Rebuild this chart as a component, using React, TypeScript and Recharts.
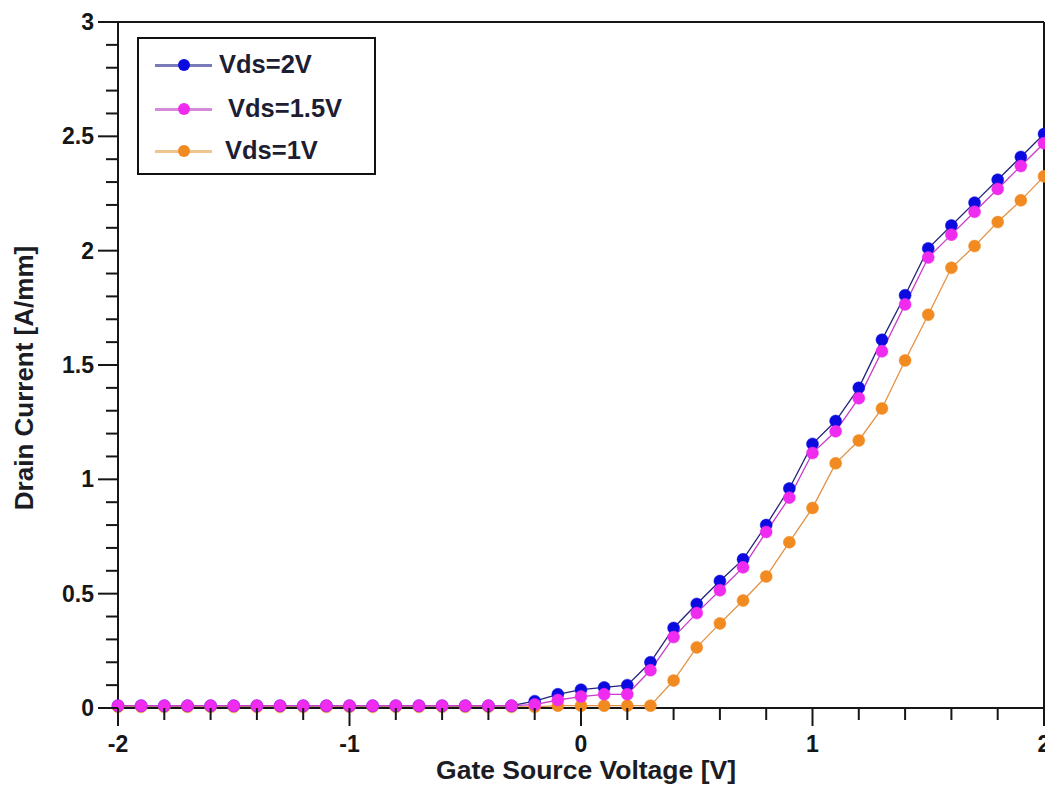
import { LineChart, Line, XAxis, YAxis, ReferenceLine } from 'recharts';

// gate source voltage [V]
const vgs = [
  -2, -1.9, -1.8, -1.7, -1.6, -1.5, -1.4, -1.3, -1.2, -1.1,
  -1, -0.9, -0.8, -0.7, -0.6, -0.5, -0.4, -0.3, -0.2, -0.1,
  0, 0.1, 0.2, 0.3, 0.4, 0.5, 0.6, 0.7, 0.8, 0.9,
  1, 1.1, 1.2, 1.3, 1.4, 1.5, 1.6, 1.7, 1.8, 1.9, 2,
];

// drain current [A/mm]
const vds2 = [
  0.01, 0.01, 0.01, 0.01, 0.01, 0.01, 0.01, 0.01, 0.01, 0.01,
  0.01, 0.01, 0.01, 0.01, 0.01, 0.01, 0.01, 0.01, 0.03, 0.06,
  0.08, 0.09, 0.1, 0.2, 0.35, 0.455, 0.555, 0.65, 0.8, 0.96,
  1.155, 1.255, 1.4, 1.61, 1.805, 2.01, 2.11, 2.21, 2.31, 2.41, 2.51,
];
const vds15 = [
  0.01, 0.01, 0.01, 0.01, 0.01, 0.01, 0.01, 0.01, 0.01, 0.01,
  0.01, 0.01, 0.01, 0.01, 0.01, 0.01, 0.01, 0.01, 0.015, 0.035,
  0.05, 0.06, 0.06, 0.165, 0.31, 0.415, 0.515, 0.615, 0.77, 0.92,
  1.115, 1.21, 1.355, 1.56, 1.765, 1.97, 2.07, 2.17, 2.27, 2.37, 2.47,
];
const vds1 = [
  0.005, 0.005, 0.005, 0.005, 0.005, 0.005, 0.005, 0.005, 0.005, 0.005,
  0.005, 0.005, 0.005, 0.005, 0.005, 0.005, 0.005, 0.005, 0.005, 0.01,
  0.01, 0.01, 0.01, 0.01, 0.12, 0.265, 0.37, 0.47, 0.575, 0.725,
  0.875, 1.07, 1.17, 1.31, 1.52, 1.72, 1.925, 2.02, 2.125, 2.22, 2.325,
];

const xTicks = [-2, -1.8, -1.6, -1.4, -1.2, -1, -0.8, -0.6, -0.4, -0.2, 0, 0.2, 0.4, 0.6, 0.8, 1, 1.2, 1.4, 1.6, 1.8, 2];
const xMajor = [-2, -1, 0, 1, 2];
const yTicks = [
  0, 0.1, 0.2, 0.3, 0.4, 0.5, 0.6, 0.7, 0.8, 0.9, 1, 1.1, 1.2, 1.3, 1.4, 1.5,
  1.6, 1.7, 1.8, 1.9, 2, 2.1, 2.2, 2.3, 2.4, 2.5, 2.6, 2.7, 2.8, 2.9, 3,
];
const yMajor = [0, 0.5, 1, 1.5, 2, 2.5, 3];

const series = [
  { key: 'vds1', name: 'Vds=1V', dot: '#f28a22', line: '#e39244', legendLine: '#efc58f', values: vds1 },
  { key: 'vds2', name: 'Vds=2V', dot: '#0b0be0', line: '#23237a', legendLine: '#7a7ab8', values: vds2 },
  { key: 'vds15', name: 'Vds=1.5V', dot: '#ee2bee', line: '#c83cc8', legendLine: '#d78ad7', values: vds15 },
];
const legendOrder = ['vds2', 'vds15', 'vds1'];

const data = vgs.map((v, i) => ({ v, vds2: vds2[i], vds15: vds15[i], vds1: vds1[i] }));

const FONT = '"Liberation Sans", Arial, sans-serif';
const INK = '#161616';

const isMajor = (list: number[], v: number) => list.some(m => Math.abs(m - v) < 1e-6);

function XTick({ x, y, payload }: any) {
  const major = isMajor(xMajor, payload.value);
  return (
    <g>
      <line x1={x} x2={x} y1={y} y2={y + (major ? 18 : 12)} stroke={INK} strokeWidth={2} />
      {major && (
        <text x={x} y={y + 44} textAnchor="middle" fontSize={23} fontWeight="bold" fontFamily={FONT} fill={INK}>
          {payload.value}
        </text>
      )}
    </g>
  );
}

function YTick({ x, y, payload }: any) {
  const major = isMajor(yMajor, payload.value);
  return (
    <g>
      <line x1={x} x2={x - (major ? 20 : 12)} y1={y} y2={y} stroke={INK} strokeWidth={2} />
      {major && (
        <text x={x - 24} y={y + 8} textAnchor="end" fontSize={23} fontWeight="bold" fontFamily={FONT} fill={INK}>
          {payload.value}
        </text>
      )}
    </g>
  );
}

export default function App() {
  return (
    <div style={{ position: 'absolute', left: 0, top: 0, width: 1045, height: 786, background: '#fff', fontFamily: FONT }}>
      <LineChart width={1045} height={786} data={data} margin={{ top: 22, right: 1, bottom: 0, left: 0 }}>
        <XAxis
          dataKey="v" type="number" domain={[-2, 2]} ticks={xTicks} interval={0}
          height={78} tickSize={0} tickMargin={0} tickLine={false} tick={<XTick />}
          axisLine={{ stroke: INK, strokeWidth: 2 }}
        />
        <YAxis
          type="number" domain={[0, 3]} ticks={yTicks} interval={0}
          width={118} tickSize={0} tickMargin={0} tickLine={false} tick={<YTick />}
          axisLine={{ stroke: INK, strokeWidth: 2 }}
        />
        <ReferenceLine y={3} stroke={INK} strokeWidth={2} />
        <ReferenceLine x={2} stroke={INK} strokeWidth={2} />
        {series.map(s => (
          <Line
            key={s.key} dataKey={s.key} name={s.name} type="linear"
            stroke={s.line} strokeWidth={1.3}
            dot={{ r: 6, fill: s.dot, stroke: s.dot, strokeWidth: 0.5 }}
            activeDot={false} isAnimationActive={false}
          />
        ))}
      </LineChart>

      {/* axis titles */}
      <div style={{ position: 'absolute', left: 586, top: 755, transform: 'translateX(-50%)', whiteSpace: 'nowrap', fontSize: 26.5, fontWeight: 'bold', color: '#1c1c24', lineHeight: '30px' }}>
        Gate Source Voltage [V]
      </div>
      <div style={{ position: 'absolute', left: 24, top: 378, transform: 'translate(-50%, -50%) rotate(-90deg)', whiteSpace: 'nowrap', fontSize: 26, fontWeight: 'bold', color: '#1c1c24', lineHeight: '30px' }}>
        Drain Current [A/mm]
      </div>

      {/* legend */}
      <div style={{ position: 'absolute', left: 137, top: 37, width: 235, height: 134, border: '2px solid #111', background: '#fff' }}>
        {legendOrder.map((k, i) => {
          const s = series.find(d => d.key === k)!;
          const top = [26, 70, 112][i];
          const textLeft = [80, 89, 86][i];
          return (
            <div key={k}>
              <div style={{ position: 'absolute', left: 16, top: top - 1, width: 57, height: 3, background: s.legendLine }} />
              <div style={{ position: 'absolute', left: 39, top: top - 6, width: 12, height: 12, borderRadius: 6, background: s.dot }} />
              <div style={{ position: 'absolute', left: textLeft, top: top - 16, fontSize: 25.5, fontWeight: 'bold', color: '#1d1d33', lineHeight: '30px', whiteSpace: 'nowrap' }}>
                {s.name}
              </div>
            </div>
          );
        })}
      </div>
    </div>
  );
}
